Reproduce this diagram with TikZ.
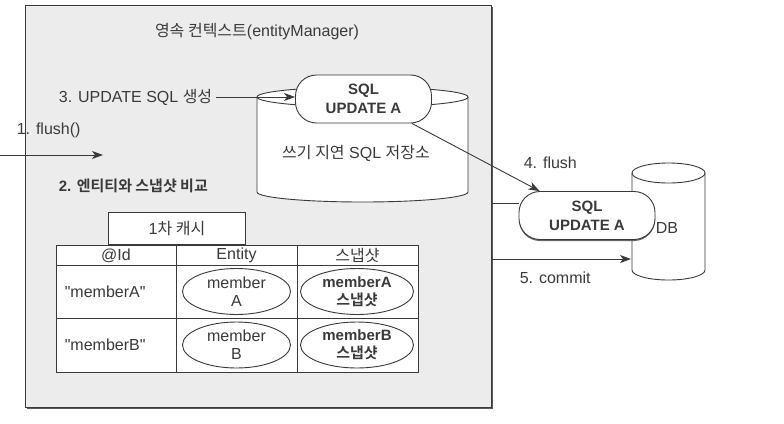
\documentclass[tikz,border=0pt]{standalone}
\usepackage{fontspec}
\setmainfont[Ligatures=TeXOff]{Liberation Sans}
\newfontfamily\kr[Scale=1.0,BoldFont={Noto Sans CJK KR Bold}]{Noto Sans CJK KR}
\usetikzlibrary{arrows.meta,shapes.geometric,shadows}
\definecolor{ink}{HTML}{3A3A3A}
\definecolor{pane}{HTML}{ECECEC}

\begin{document}
\begin{tikzpicture}[x=1pt, y=-1pt, line width=0.9pt, color=ink,
  font=\fontsize{16}{18}\selectfont,
  arr/.style={-{Stealth[length=11pt,width=8pt,inset=3pt]}},
  pill/.style={draw, fill=white, rounded corners=21pt, minimum width=136pt,
    minimum height=48pt, inner sep=0pt, align=center,
    font=\fontsize{15}{19}\selectfont\bfseries},
  oval/.style={draw, fill=white, ellipse, minimum width=108pt,
    minimum height=46pt, inner sep=0pt, align=center}]

  \useasboundingbox (0,0) rectangle (784,423);

  \node[draw, fill=pane, anchor=north west, minimum width=466pt,
    minimum height=402pt, inner sep=0pt,
    drop shadow={shadow xshift=1.8pt, shadow yshift=-1.8pt, fill=black!65, opacity=1}]
    (ctx) at (25,5) {};
  \node (title) at (257,32) {{\kr 영속 컨텍스트}(entityManager)};

  \draw[fill=white] (257,97) -- (257,192)
    arc[start angle=180, end angle=360, x radius=105.5pt, y radius=10pt] -- (468,97)
    arc[start angle=0, end angle=180, x radius=105.5pt, y radius=10pt] -- cycle;
  \draw (257,97) arc[start angle=180, end angle=360, x radius=105.5pt, y radius=10pt];
  \node[pill] (sql1) at (363.5,99) {SQL\\UPDATE A};
  \node (buf) at (356,153) {{\kr 쓰기 지연} SQL {\kr 저장소}};

  \node[anchor=east] (upd) at (216,97) {3. UPDATE SQL {\kr 생성}};
  \draw[arr] (upd.east) -- (upd.east -| sql1.west);

  \node[anchor=west] (fl) at (13,130) {1. flush()};
  \coordinate (in) at (0,155);
  \coordinate (inEnd) at (103,155);
  \draw[arr] (in) -- (inEnd);

  \node[anchor=west, font=\fontsize{15}{18}\selectfont\bfseries] (cmp) at (55,186)
    {2. {\kr 엔티티와 스냅샷 비교}};

  \node[draw, fill=white, anchor=south west, minimum width=137pt,
    minimum height=32pt, inner sep=0pt] (tab) at (108,245) {1{\kr 차 캐시}};
  \draw[fill=white] (56,245) rectangle (418,372);
  \draw (56,265) -- (418,265) (56,318) -- (418,318)
        (176,245) -- (176,372) (297,245) -- (297,372);
  \node (hId) at (116,255.5) {@Id};
  \node (hEnt) at (236.5,255.5) {Entity};
  \node (hSnap) at (357.5,255.5) {\kr 스냅샷};
  \foreach \m/\yy in {A/291.5,B/345}{
    \node[anchor=west] (id\m) at (61,\yy) {"member\m"};
    \node[oval] (ent\m) at (236.5,\yy) {member\\\m};
    \node[oval, minimum width=113pt, font=\fontsize{15}{18}\selectfont\bfseries]
      (snap\m) at (357,\yy) {member\m\\{\kr 스냅샷}};
  }

  \draw[fill=white] (632,173) -- (632,270)
    arc[start angle=180, end angle=360, x radius=36.5pt, y radius=10pt] -- (705,173)
    arc[start angle=0, end angle=180, x radius=36.5pt, y radius=10pt] -- cycle;
  \draw (632,173) arc[start angle=180, end angle=360, x radius=36.5pt, y radius=10pt];
  \node (db) at (667,228) {DB};

  \node[pill, drop shadow={shadow xshift=0pt, shadow yshift=-1.5pt, fill=black!60, opacity=1}]
    (sql2) at (587,215.5) {SQL\\UPDATE A};
  \coordinate (link) at (0,203);
  \draw (ctx.east |- link) -- (sql2.west |- link);

  \draw[arr] ([xshift=-20pt]sql1.south east) -- ([xshift=21pt]sql2.north west);
  \node[anchor=west] (f4) at (520,163) {4. flush};

  \coordinate (dbIn) at (631,259);
  \draw[arr] (ctx.east |- dbIn) -- (dbIn);
  \node[anchor=west] (cm) at (516,278) {5. commit};
\end{tikzpicture}
\end{document}
